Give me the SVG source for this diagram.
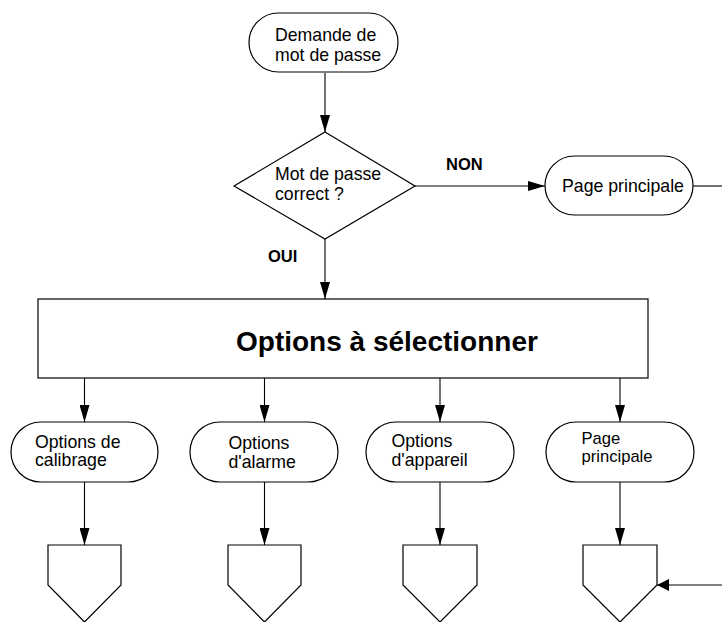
<svg xmlns="http://www.w3.org/2000/svg" width="722" height="622" viewBox="0 0 722 622">
<defs>
<marker id="ah" markerUnits="userSpaceOnUse" markerWidth="18" markerHeight="10" refX="17" refY="5" orient="auto">
<path d="M0,0 L17,5 L0,10 Z" fill="#000"/>
</marker>
<marker id="ahs" markerUnits="userSpaceOnUse" markerWidth="13" markerHeight="12" refX="12" refY="6" orient="auto">
<path d="M0,0 L12,6 L0,12 Z" fill="#000"/>
</marker>
<style>
.sh{fill:#fff;stroke:#000;stroke-width:1.2}
.cn{fill:none;stroke:#000;stroke-width:1.1}
.t{font-family:"Liberation Sans",Arial,sans-serif;font-size:17.7px;fill:#000}
.s{font-family:"Liberation Sans",Arial,sans-serif;font-size:16.6px;fill:#000}
.b{font-family:"Liberation Sans",Arial,sans-serif;font-size:16.5px;font-weight:bold;fill:#000}
.h{font-family:"Liberation Sans",Arial,sans-serif;font-size:28px;font-weight:bold;fill:#000}
</style>
</defs>
<g id="connectors">
<line class="cn" x1="325" y1="73" x2="325" y2="132" marker-end="url(#ah)"/>
<line class="cn" x1="325" y1="239" x2="325" y2="299" marker-end="url(#ah)"/>
<line class="cn" x1="415" y1="186" x2="545" y2="186" marker-end="url(#ah)"/>
<line class="cn" x1="693" y1="186" x2="722" y2="186"/>
<line class="cn" x1="722" y1="585" x2="657" y2="585" marker-end="url(#ahs)"/>
<line class="cn" x1="84.5" y1="378" x2="84.5" y2="422" marker-end="url(#ah)"/>
<line class="cn" x1="264.5" y1="378" x2="264.5" y2="422" marker-end="url(#ah)"/>
<line class="cn" x1="440" y1="378" x2="440" y2="422" marker-end="url(#ah)"/>
<line class="cn" x1="620" y1="378" x2="620" y2="422" marker-end="url(#ah)"/>
<line class="cn" x1="84.5" y1="482" x2="84.5" y2="545" marker-end="url(#ah)"/>
<line class="cn" x1="264.5" y1="482" x2="264.5" y2="545" marker-end="url(#ah)"/>
<line class="cn" x1="440" y1="482" x2="440" y2="545" marker-end="url(#ah)"/>
<line class="cn" x1="620" y1="482" x2="620" y2="545" marker-end="url(#ah)"/>
<text class="b" x="446" y="170">NON</text>
<text class="b" x="268" y="262">OUI</text>
</g>
<g id="start">
<rect class="sh" x="249" y="13" width="149" height="59" rx="29.5"/>
<text class="t" x="275" y="41">Demande de</text>
<text class="t" x="275" y="61">mot de passe</text>
</g>
<g id="decision">
<polygon class="sh" points="325,132 415,186 325,239 234,186"/>
<text class="t" x="275" y="180">Mot de passe</text>
<text class="t" x="275" y="200">correct ?</text>
</g>
<g id="page-principale-top">
<rect class="sh" x="545" y="156" width="148" height="59" rx="29.5"/>
<text class="t" x="562" y="192">Page principale</text>
</g>
<g id="options">
<rect class="sh" x="38" y="299" width="610" height="79"/>
<text class="h" x="236" y="351">Options à sélectionner</text>
</g>
<g id="calibrage">
<rect class="sh" x="11" y="422" width="147" height="60" rx="30"/>
<text class="t" x="35" y="448">Options de</text>
<text class="t" x="35" y="466">calibrage</text>
</g>
<g id="alarme">
<rect class="sh" x="190" y="422" width="148" height="60" rx="30"/>
<text class="t" x="228.5" y="448.5">Options</text>
<text class="t" x="228.5" y="468">d'alarme</text>
</g>
<g id="appareil">
<rect class="sh" x="366" y="422" width="148" height="60" rx="30"/>
<text class="t" x="391.5" y="446.5">Options</text>
<text class="t" x="391.5" y="466">d'appareil</text>
</g>
<g id="page-principale">
<rect class="sh" x="546" y="422" width="148" height="60" rx="30"/>
<text class="s" x="581.5" y="444">Page</text>
<text class="s" x="581.5" y="462">principale</text>
</g>
<g id="off1"><polygon class="sh" points="48,545 121,545 121,585 84.5,622 48,585"/></g>
<g id="off2"><polygon class="sh" points="228,545 301,545 301,585 264.5,622 228,585"/></g>
<g id="off3"><polygon class="sh" points="403,545 477,545 477,585 440,622 403,585"/></g>
<g id="off4"><polygon class="sh" points="583,545 657,545 657,585 620,622 583,585"/></g>
</svg>
